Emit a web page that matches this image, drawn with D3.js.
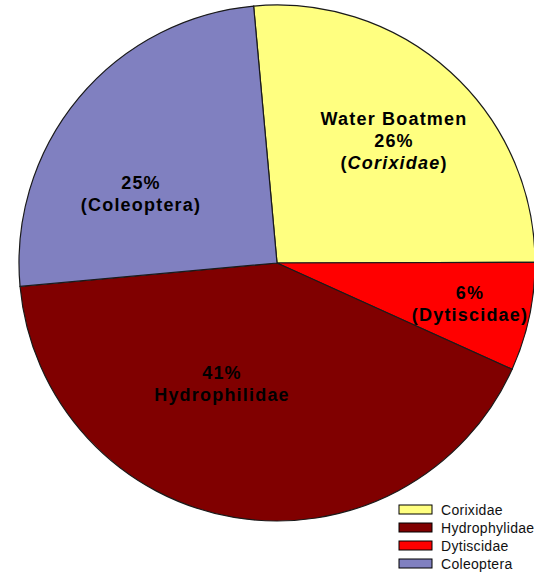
<!DOCTYPE html>
<html>
<head>
<meta charset="utf-8">
<script src="https://cdn.jsdelivr.net/npm/d3@7"></script>
<style>
  body { margin: 0; background: #fff; }
  svg { display: block; font-family: "Liberation Sans", Arial, sans-serif; }
</style>
</head>
<body>
<svg id="chart" width="534" height="575"></svg>
<script>
// slice order follows the chart, clockwise from the top
const families = ["Corixidae", "Dytiscidae", "Hydrophilidae", "Coleoptera"];
const shares = [26.4, 6.8, 41.8, 25.0];
const sliceColors = ["#FFFF80", "#FF0000", "#800000", "#8080C0"];

// text printed inside each slice (one array entry per line)
const sliceLabels = [
  ["Water Boatmen", "26%", "(|Corixidae|)"],
  ["6%", "(Dytiscidae)"],
  ["41%", "Hydrophilidae"],
  ["25%", "(Coleoptera)"]
];
const labelPos = [[394, 124], [470, 298], [222, 378], [141, 188]];

// legend keeps the spelling of the original
const legendNames = ["Corixidae", "Hydrophylidae", "Dytiscidae", "Coleoptera"];
const legendColors = ["#FFFF80", "#800000", "#FF0000", "#8080C0"];

const svg = d3.select("#chart");
const cx = 277, cy = 263, r = 258;

const pie = d3.pie()
  .sort(null)
  .value(d => d)
  .startAngle(-5.2 * Math.PI / 180)
  .endAngle(2 * Math.PI - 5.2 * Math.PI / 180);

const arc = d3.arc().innerRadius(0).outerRadius(r);

const g = svg.append("g").attr("transform", `translate(${cx},${cy})`);

g.selectAll("path")
  .data(pie(shares))
  .join("path")
  .attr("d", arc)
  .attr("fill", (d, i) => sliceColors[i])
  .attr("stroke", "#1a1a1a")
  .attr("stroke-width", 1.2);

// slice labels
sliceLabels.forEach((lines, i) => {
  const t = svg.append("text")
    .attr("x", labelPos[i][0])
    .attr("y", labelPos[i][1] + 0.5)
    .attr("text-anchor", "middle")
    .attr("font-size", 18)
    .attr("font-weight", "bold")
    .attr("letter-spacing", 1.2)
    .attr("fill", "#000");
  lines.forEach((line, j) => {
    const ts = t.append("tspan")
      .attr("x", labelPos[i][0])
      .attr("dy", j === 0 ? 0 : 22);
    // parts between | are italic
    line.split("|").forEach((part, k) => {
      if (!part) return;
      ts.append("tspan")
        .attr("font-style", k % 2 === 1 ? "italic" : "normal")
        .text(part);
    });
  });
});

// legend
const legend = svg.append("g").attr("transform", "translate(399,505)");
const row = legend.selectAll("g")
  .data(legendNames)
  .join("g")
  .attr("transform", (d, i) => `translate(0,${i * 18})`);

row.append("rect")
  .attr("width", 33)
  .attr("height", 9)
  .attr("fill", (d, i) => legendColors[i])
  .attr("stroke", "#000")
  .attr("stroke-width", 1);

row.append("text")
  .attr("x", 42)
  .attr("y", 10)
  .attr("font-size", 14)
  .attr("letter-spacing", 0.3)
  .attr("fill", "#111")
  .text(d => d);
</script>
</body>
</html>
